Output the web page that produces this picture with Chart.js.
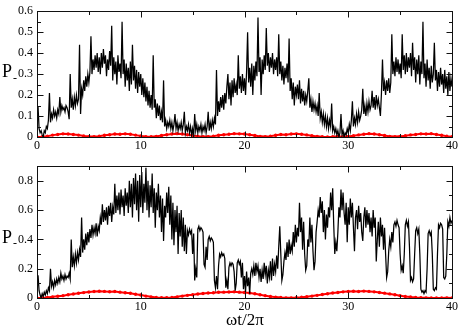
<!DOCTYPE html>
<html>
<head>
<meta charset="utf-8">
<script src="https://cdn.jsdelivr.net/npm/chart.js@4.4.1/dist/chart.umd.min.js"></script>
<style>
  body { margin: 0; background: #fff; }
  #wrap { position: relative; width: 460px; height: 327px; overflow: hidden;
          font-family: 'Liberation Serif', 'Times New Roman', serif; color: #000; }
  canvas { position: absolute; left: 0; }
  .lbl { position: absolute; line-height: 1; white-space: nowrap; }
</style>
</head>
<body>
<div id="wrap">
  <canvas id="topChart" width="460" height="155" style="top:0"></canvas>
  <canvas id="bottomChart" width="460" height="172" style="top:155px"></canvas>
  <span class="lbl" style="left:2px;top:62px;font-size:18px">P</span>
  <span class="lbl" style="left:13px;top:72px;font-size:12px">-</span>
  <span class="lbl" style="left:2px;top:228px;font-size:18px">P</span>
  <span class="lbl" style="left:13px;top:237px;font-size:12px">-</span>
  <span class="lbl" style="left:226px;top:311px;font-size:17px">ωt/2π</span>
</div>
<script>
// x spacing of the sampled series (ωt/2π)
const blackStep = 0.1;
const redStep = 0.5;

// top panel, black curve, x = 0 .. 40 step 0.1
const topBlack = [
  0.05, 0.145, 0.04, 0.02, 0.03, 0.01, 0.00, 0.03, 0.02, 0.05,
  0.04, 0.08, 0.21, 0.07, 0.11, 0.09, 0.13, 0.10, 0.12, 0.09,
  0.13, 0.11, 0.19, 0.12, 0.15, 0.13, 0.14, 0.12, 0.15, 0.14,
  0.12, 0.085, 0.30, 0.14, 0.18, 0.13, 0.19, 0.15, 0.20, 0.16,
  0.18, 0.44, 0.11, 0.23, 0.20, 0.27, 0.22, 0.29, 0.24, 0.30,
  0.26, 0.31, 0.48, 0.30, 0.37, 0.32, 0.39, 0.33, 0.40, 0.31,
  0.38, 0.30, 0.40, 0.33, 0.42, 0.35, 0.39, 0.29, 0.37, 0.32,
  0.41, 0.34, 0.53, 0.27, 0.38, 0.30, 0.36, 0.25, 0.39, 0.31,
  0.35, 0.28, 0.55, 0.30, 0.37, 0.24, 0.35, 0.27, 0.33, 0.22,
  0.36, 0.25, 0.44, 0.27, 0.34, 0.23, 0.32, 0.21, 0.31, 0.24,
  0.30, 0.20, 0.28, 0.19, 0.26, 0.17, 0.24, 0.15, 0.22, 0.14,
  0.20, 0.13, 0.39, 0.14, 0.18, 0.09, 0.16, 0.10, 0.15, 0.08,
  0.12, 0.07, 0.27, 0.05, 0.08, 0.04, 0.07, 0.05, 0.08, 0.04,
  0.07, 0.03, 0.06, 0.11, 0.04, 0.07, 0.03, 0.06, 0.04, 0.07,
  0.03, 0.06, 0.12, 0.02, 0.05, 0.03, 0.06, 0.02, 0.05, 0.01,
  0.04, 0.00, 0.11, 0.03, 0.06, 0.02, 0.05, 0.03, 0.06, 0.02,
  0.05, 0.03, 0.06, 0.02, 0.05, 0.12, 0.03, 0.07, 0.04, 0.08,
  0.05, 0.09, 0.06, 0.32, 0.10, 0.17, 0.12, 0.19, 0.14, 0.20,
  0.13, 0.21, 0.16, 0.24, 0.30, 0.18, 0.26, 0.15, 0.27, 0.19,
  0.28, 0.21, 0.25, 0.20, 0.39, 0.23, 0.29, 0.21, 0.30, 0.22,
  0.28, 0.20, 0.31, 0.50, 0.26, 0.33, 0.24, 0.35, 0.20, 0.34,
  0.27, 0.36, 0.29, 0.57, 0.31, 0.38, 0.20, 0.37, 0.30, 0.39,
  0.32, 0.52, 0.34, 0.40, 0.31, 0.38, 0.33, 0.40, 0.30, 0.37,
  0.32, 0.38, 0.29, 0.49, 0.30, 0.36, 0.27, 0.34, 0.25, 0.33,
  0.28, 0.35, 0.26, 0.47, 0.22, 0.28, 0.18, 0.26, 0.15, 0.24,
  0.20, 0.25, 0.18, 0.27, 0.16, 0.23, 0.17, 0.22, 0.15, 0.20,
  0.17, 0.22, 0.28, 0.14, 0.18, 0.12, 0.17, 0.13, 0.16, 0.12,
  0.15, 0.10, 0.21, 0.09, 0.12, 0.07, 0.11, 0.06, 0.10, 0.05,
  0.09, 0.04, 0.08, 0.05, 0.16, 0.03, 0.05, 0.02, 0.04, 0.01,
  0.03, 0.00, 0.02, 0.11, 0.01, 0.03, 0.00, 0.02, 0.01, 0.04,
  0.02, 0.06, 0.03, 0.08, 0.17, 0.05, 0.09, 0.06, 0.11, 0.07,
  0.12, 0.08, 0.10, 0.13, 0.23, 0.11, 0.15, 0.10, 0.16, 0.12,
  0.17, 0.13, 0.15, 0.22, 0.14, 0.19, 0.13, 0.20, 0.15, 0.18,
  0.14, 0.10, 0.21, 0.37, 0.22, 0.26, 0.20, 0.27, 0.22, 0.28,
  0.21, 0.26, 0.49, 0.30, 0.36, 0.29, 0.38, 0.31, 0.37, 0.30,
  0.35, 0.28, 0.49, 0.32, 0.39, 0.30, 0.40, 0.31, 0.38, 0.33,
  0.40, 0.29, 0.45, 0.32, 0.38, 0.26, 0.37, 0.30, 0.39, 0.25,
  0.36, 0.30, 0.55, 0.28, 0.35, 0.24, 0.37, 0.27, 0.33, 0.23,
  0.34, 0.26, 0.30, 0.45, 0.27, 0.32, 0.22, 0.31, 0.24, 0.33,
  0.25, 0.30, 0.21, 0.32, 0.23, 0.29, 0.20, 0.31, 0.22, 0.28,
  0.24
];

// top panel, red curve, x = 0 .. 40 step 0.5
const topRed = [
  0.000, 0.001, 0.004, 0.009, 0.012, 0.015, 0.014, 0.012, 0.009, 0.005,
  0.002, 0.002, 0.004, 0.008, 0.011, 0.014, 0.013, 0.015, 0.013, 0.009,
  0.005, 0.002, 0.001, 0.003, 0.007, 0.011, 0.014, 0.016, 0.014, 0.011,
  0.007, 0.004, 0.002, 0.002, 0.004, 0.008, 0.011, 0.013, 0.016, 0.015,
  0.014, 0.011, 0.007, 0.003, 0.002, 0.004, 0.008, 0.012, 0.011, 0.014,
  0.015, 0.013, 0.010, 0.006, 0.003, 0.001, 0.000, 0.001, 0.003, 0.001,
  0.003, 0.006, 0.010, 0.013, 0.016, 0.014, 0.011, 0.007, 0.003, 0.002,
  0.003, 0.006, 0.010, 0.012, 0.015, 0.014, 0.016, 0.012, 0.008, 0.004,
  0.001
];

// bottom panel, black curve, x = 0 .. 40 step 0.1
const bottomBlack = [
  0.04, 0.155, 0.05, 0.02, 0.00, 0.03, 0.01, 0.04, 0.02, 0.05,
  0.03, 0.07, 0.05, 0.20, 0.08, 0.11, 0.07, 0.12, 0.09, 0.13,
  0.10, 0.14, 0.11, 0.17, 0.13, 0.15, 0.12, 0.16, 0.13, 0.15,
  0.14, 0.17, 0.13, 0.40, 0.21, 0.28, 0.22, 0.30, 0.24, 0.31,
  0.26, 0.33, 0.28, 0.55, 0.31, 0.40, 0.33, 0.44, 0.36, 0.45,
  0.38, 0.47, 0.41, 0.50, 0.43, 0.48, 0.44, 0.51, 0.42, 0.49,
  0.46, 0.55, 0.50, 0.64, 0.52, 0.60, 0.53, 0.62, 0.50, 0.63,
  0.56, 0.65, 0.52, 0.62, 0.57, 0.78, 0.58, 0.70, 0.60, 0.72,
  0.57, 0.74, 0.62, 0.70, 0.56, 0.75, 0.63, 0.72, 0.58, 0.80,
  0.62, 0.78, 0.55, 0.82, 0.64, 0.85, 0.60, 0.80, 0.52, 0.84,
  0.62, 0.86, 0.58, 0.78, 0.65, 0.89, 0.60, 0.80, 0.55, 0.77,
  0.62, 0.85, 0.58, 0.75, 0.48, 0.72, 0.60, 0.78, 0.55, 0.70,
  0.45, 0.68, 0.39, 0.63, 0.55, 0.72, 0.58, 0.76, 0.50, 0.70,
  0.40, 0.65, 0.36, 0.60, 0.45, 0.63, 0.30, 0.58, 0.42, 0.60,
  0.35, 0.55, 0.32, 0.50, 0.30, 0.46, 0.43, 0.47, 0.44, 0.46,
  0.30, 0.44, 0.12, 0.20, 0.14, 0.47, 0.49, 0.46, 0.48, 0.47,
  0.45, 0.23, 0.21, 0.35, 0.26, 0.40, 0.42, 0.39, 0.41, 0.40,
  0.38, 0.12, 0.07, 0.15, 0.06, 0.22, 0.30, 0.28, 0.31, 0.29,
  0.30, 0.27, 0.07, 0.12, 0.06, 0.21, 0.24, 0.22, 0.24, 0.23,
  0.18, 0.05, 0.10, 0.24, 0.26, 0.23, 0.25, 0.14, 0.24, 0.06,
  0.15, 0.04, 0.18, 0.08, 0.14, 0.03, 0.17, 0.20, 0.16, 0.22,
  0.15, 0.24, 0.18, 0.22, 0.14, 0.20, 0.11, 0.19, 0.13, 0.24,
  0.16, 0.22, 0.10, 0.19, 0.14, 0.25, 0.12, 0.27, 0.15, 0.23,
  0.18, 0.29, 0.20, 0.35, 0.49, 0.30, 0.12, 0.16, 0.25, 0.31,
  0.26, 0.38, 0.28, 0.40, 0.30, 0.36, 0.32, 0.45, 0.35, 0.50,
  0.38, 0.48, 0.42, 0.65, 0.45, 0.55, 0.33, 0.52, 0.30, 0.19,
  0.22, 0.40, 0.35, 0.55, 0.38, 0.50, 0.32, 0.19, 0.25, 0.45,
  0.52, 0.60, 0.55, 0.69, 0.58, 0.66, 0.45, 0.60, 0.40, 0.57,
  0.48, 0.62, 0.55, 0.72, 0.60, 0.75, 0.50, 0.30, 0.38, 0.32,
  0.45, 0.62, 0.55, 0.74, 0.60, 0.72, 0.58, 0.50, 0.65, 0.38,
  0.62, 0.50, 0.68, 0.55, 0.65, 0.48, 0.32, 0.55, 0.60, 0.47,
  0.63, 0.52, 0.58, 0.45, 0.39, 0.55, 0.62, 0.48, 0.60, 0.50,
  0.58, 0.45, 0.55, 0.42, 0.60, 0.48, 0.55, 0.25, 0.40, 0.52,
  0.35, 0.55, 0.42, 0.50, 0.33, 0.48, 0.30, 0.14, 0.18, 0.32,
  0.40, 0.35, 0.45, 0.38, 0.50, 0.52, 0.49, 0.53, 0.50, 0.48,
  0.30, 0.19, 0.22, 0.17, 0.30, 0.50, 0.53, 0.49, 0.52, 0.35,
  0.12, 0.14, 0.11, 0.13, 0.30, 0.46, 0.48, 0.44, 0.47, 0.30,
  0.06, 0.04, 0.05, 0.03, 0.05, 0.04, 0.20, 0.44, 0.46, 0.43,
  0.45, 0.30, 0.06, 0.05, 0.07, 0.06, 0.30, 0.50, 0.48, 0.51,
  0.50, 0.47, 0.14, 0.13, 0.15, 0.30, 0.52, 0.49, 0.55, 0.51,
  0.53
];

// bottom panel, red curve, x = 0 .. 40 step 0.5
const bottomRed = [
  0.000, 0.001, 0.004, 0.008, 0.012, 0.016, 0.022, 0.027, 0.032, 0.037,
  0.041, 0.044, 0.046, 0.045, 0.043, 0.044, 0.040, 0.036, 0.032, 0.026,
  0.020, 0.013, 0.008, 0.004, 0.002, 0.002, 0.004, 0.008, 0.013, 0.018,
  0.022, 0.027, 0.031, 0.034, 0.036, 0.039, 0.040, 0.041, 0.042, 0.040,
  0.038, 0.034, 0.029, 0.022, 0.016, 0.010, 0.006, 0.003, 0.001, 0.001,
  0.002, 0.005, 0.009, 0.013, 0.018, 0.024, 0.029, 0.034, 0.038, 0.042,
  0.045, 0.046, 0.044, 0.047, 0.045, 0.042, 0.038, 0.033, 0.028, 0.022,
  0.016, 0.011, 0.007, 0.004, 0.002, 0.001, 0.000, 0.000, 0.000, 0.001,
  0.000
];

const FONT = "'Liberation Serif', 'Times New Roman', serif";

function toPoints(values, step) {
  return values.map((v, i) => ({ x: +(i * step).toFixed(2), y: v }));
}

// frame with inward major/minor ticks on all four sides
const frameTicks = {
  id: "frameTicks",
  afterDraw(chart) {
    const { ctx, chartArea: a, scales } = chart;
    const L = Math.round(a.left) + 0.5, R = Math.round(a.right) + 0.5;
    const T = Math.round(a.top) + 0.5, B = Math.round(a.bottom) + 0.5;
    ctx.save();
    ctx.strokeStyle = "#111";
    ctx.lineWidth = 1;
    ctx.strokeRect(L, T, R - L, B - T);
    ctx.beginPath();
    const drawAxis = (scale, vertical) => {
      const vals = scale.ticks.map((t) => t.value);
      const step = vals[1] - vals[0];
      const marks = [];
      vals.forEach((v) => marks.push([v, 6]));
      for (let v = vals[0] + step / 2; v < scale.max; v += step) marks.push([v, 3.5]);
      marks.forEach(([v, len]) => {
        const p = Math.round(scale.getPixelForValue(v)) + 0.5;
        if (vertical) {
          ctx.moveTo(L, p); ctx.lineTo(L + len, p);
          ctx.moveTo(R, p); ctx.lineTo(R - len, p);
        } else {
          ctx.moveTo(p, B); ctx.lineTo(p, B - len);
          ctx.moveTo(p, T); ctx.lineTo(p, T + len);
        }
      });
    };
    drawAxis(scales.x, false);
    drawAxis(scales.y, true);
    ctx.stroke();
    ctx.restore();
  },
};

function makeChart(id, black, red, yMax, yStep, padTop, xHeight) {
  return new Chart(document.getElementById(id), {
    type: "line",
    data: {
      datasets: [
        {
          data: toPoints(black, blackStep),
          borderColor: "#000",
          borderWidth: 1.25,
          pointRadius: 0,
          tension: 0,
        },
        {
          data: toPoints(red, redStep),
          borderColor: "#ff0000",
          backgroundColor: "#ff0000",
          borderWidth: 2,
          pointRadius: 1.7,
          pointBorderWidth: 0,
          tension: 0,
        },
      ],
    },
    options: {
      responsive: false,
      animation: false,
      layout: { padding: { top: padTop, right: 7, left: 0, bottom: 0 } },
      plugins: { legend: { display: false }, tooltip: { enabled: false } },
      scales: {
        x: {
          type: "linear",
          min: 0,
          max: 40,
          grid: { display: false, drawTicks: false },
          border: { display: false },
          ticks: { stepSize: 10, padding: 2, color: "#000", font: { family: FONT, size: 12 } },
          afterFit(scale) { scale.height = xHeight; },
        },
        y: {
          min: 0,
          max: yMax,
          grid: { display: false, drawTicks: false },
          border: { display: false },
          ticks: {
            stepSize: yStep,
            includeBounds: false,
            padding: 4,
            color: "#000",
            font: { family: FONT, size: 12 },
          },
          afterFit(scale) { scale.width = 37; },
        },
      },
    },
    plugins: [frameTicks],
  });
}

makeChart("topChart", topBlack, topRed, 0.6, 0.1, 5, 18);
makeChart("bottomChart", bottomBlack, bottomRed, 0.9, 0.2, 9, 29);
</script>
</body>
</html>
